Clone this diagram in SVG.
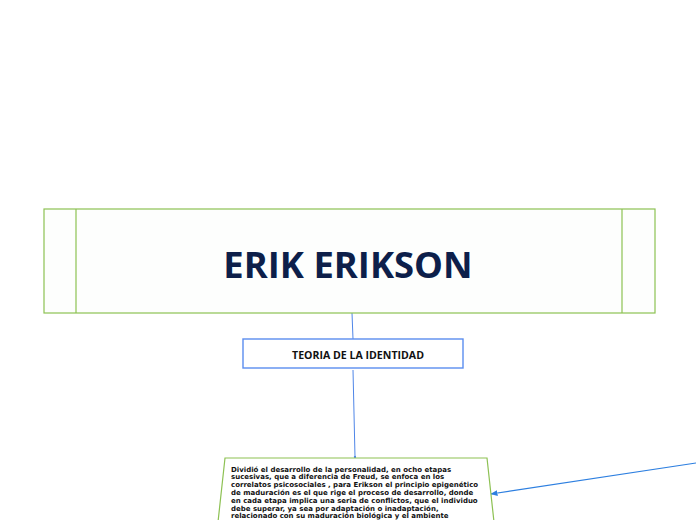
<svg xmlns="http://www.w3.org/2000/svg" width="696" height="520" viewBox="0 0 696 520">
<defs>
<style>
.green{fill:#fdfefd;stroke:#8dc153;stroke-width:1.2}
.vline{stroke:#8dc153;stroke-width:1.2}
.conn{fill:none;stroke:#4f86e8;stroke-width:1}
.title{font-family:"Open Sans","Noto Sans",sans-serif;font-weight:bold;font-size:36.4px;fill:#0d1f4a}
.sub{font-family:"Open Sans","Noto Sans",sans-serif;font-weight:bold;font-size:10.2px;fill:#111}
.body{font-family:"DejaVu Sans","Verdana",sans-serif;font-weight:bold;font-size:7px;fill:#111}
</style>
<marker id="ah" viewBox="0 0 10 10" refX="9" refY="5" markerWidth="6" markerHeight="6" orient="auto">
<path d="M0,1 L10,5 L0,9 z" fill="#2d7fe0"/>
</marker>
<marker id="dot" viewBox="0 0 10 10" refX="5" refY="5" markerWidth="3" markerHeight="3" orient="auto">
<circle cx="5" cy="5" r="4" fill="#4f86e8"/>
</marker>
</defs>
<rect width="696" height="520" fill="#ffffff"/>
<g id="connectors">
<line class="conn" x1="352" y1="313" x2="353" y2="339"/>
<line class="conn" x1="353" y1="370" x2="355" y2="457" marker-end="url(#dot)"/>
<line x1="696" y1="463" x2="491" y2="494" stroke="#2d7fe0" stroke-width="1.2" marker-end="url(#ah)"/>
</g>
<g id="node-erik">
<rect class="green" x="44" y="209" width="611" height="104"/>
<line class="vline" x1="76" y1="209" x2="76" y2="313"/>
<line class="vline" x1="622" y1="209" x2="622" y2="313"/>
<text class="title" x="348" y="278" text-anchor="middle">ERIK ERIKSON</text>
</g>
<g id="node-teoria">
<rect x="243" y="339" width="220" height="29" fill="#ffffff" stroke="#5b8def" stroke-width="1.4"/>
<text class="sub" x="292" y="359" textLength="132" lengthAdjust="spacingAndGlyphs">TEORIA DE LA IDENTIDAD</text>
</g>
<g id="node-desc">
<path d="M218,522 L225,458 L487,458 L494,522" fill="#ffffff" stroke="#8dc153" stroke-width="1.2"/>
<text class="body" x="231" y="471.5">Dividió el desarrollo de la personalidad, en ocho etapas</text>
<text class="body" x="231" y="479.3">sucesivas, que a diferencia de Freud, se enfoca en los</text>
<text class="body" x="231" y="487.1">correlatos psicosociales , para Erikson el principio epigenético</text>
<text class="body" x="231" y="494.9">de maduración es el que rige  el proceso de desarrollo, donde</text>
<text class="body" x="231" y="502.7">en cada etapa implica una seria de conflictos, que el individuo</text>
<text class="body" x="231" y="510.5">debe superar, ya sea por adaptación o inadaptación,</text>
<text class="body" x="231" y="518.3">relacionado con su maduración biológica y el ambiente</text>
</g>
</svg>
